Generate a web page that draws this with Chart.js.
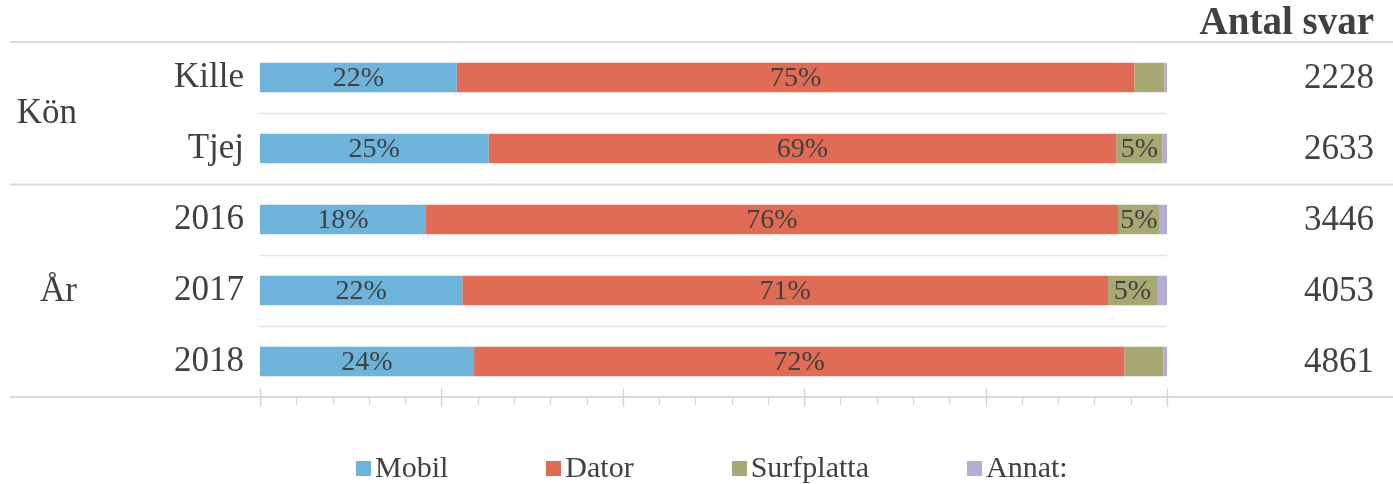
<!DOCTYPE html>
<html><head><meta charset="utf-8">
<script src="https://cdn.jsdelivr.net/npm/chart.js@4"></script>
<style>
html,body{margin:0;padding:0;background:#fff;}
#wrap{position:relative;width:1393px;height:484px;}
#legend{position:absolute;top:450px;left:356px;display:flex;font-family:"Liberation Serif",serif;font-size:30px;color:#404040;}
#legend .it{display:flex;align-items:center;margin-right:98px;}
#legend .bx{width:15px;height:15px;margin-right:4px;margin-top:2px;}
</style></head>
<body><div id="wrap"><canvas id="c" width="1393" height="484"></canvas><div id="legend"></div></div>
<script>
const categories = ["Kille", "Tjej", "2016", "2017", "2018"];
const groups = [["Kön", 0, 1], ["År", 2, 4]];
const mobil = [21.7, 25.2, 18.3, 22.3, 23.6];
const dator = [74.7, 69.2, 76.3, 71.2, 71.7];
const surfplatta = [3.3, 5.1, 4.6, 5.4, 4.3];
const annat = [0.3, 0.5, 0.8, 1.1, 0.4];
const antalSvar = [2228, 2633, 3446, 4053, 4861];
const seriesNames = ["Mobil", "Dator", "Surfplatta", "Annat:"];
const colors = ["#6DB3DA", "#E06C55", "#A8A874", "#B3ADD6"];
const xTicksMajor = [0, 20, 40, 60, 80, 100];
const minorStep = 4;

const TXT = "#404040";
const FONT = '"Liberation Serif", serif';

const deco = {
  id: "deco",
  beforeDatasetsDraw(chart) {
    const ctx = chart.ctx, y = chart.scales.y, x = chart.scales.x, ca = chart.chartArea;
    ctx.save();
    const n = categories.length;
    const step = (ca.bottom - ca.top) / n;
    for (let i = 1; i < n; i++) {
      const yy = Math.round(ca.top + i * step) + 0.5;
      const isGroupSep = groups.some(g => g[1] === i);
      ctx.beginPath();
      if (isGroupSep) {
        ctx.strokeStyle = "#D9D9D9"; ctx.lineWidth = 2;
        ctx.moveTo(10, yy); ctx.lineTo(1393, yy);
      } else {
        ctx.strokeStyle = "#E3E3E3"; ctx.lineWidth = 1.5;
        ctx.moveTo(ca.left, yy); ctx.lineTo(ca.right, yy);
      }
      ctx.stroke();
    }
    ctx.strokeStyle = "#D9D9D9"; ctx.lineWidth = 2;
    ctx.beginPath(); ctx.moveTo(10, ca.top); ctx.lineTo(1393, ca.top); ctx.stroke();
    ctx.beginPath(); ctx.moveTo(10, ca.bottom); ctx.lineTo(1393, ca.bottom); ctx.stroke();
    ctx.lineWidth = 1.2; ctx.strokeStyle = "#D4D4D4";
    for (let v = 0; v <= 100; v += minorStep) {
      const px = Math.round(x.getPixelForValue(v)) + 0.5;
      ctx.beginPath(); ctx.moveTo(px, ca.bottom); ctx.lineTo(px, ca.bottom + 8); ctx.stroke();
    }
    xTicksMajor.forEach(v => {
      const px = Math.round(x.getPixelForValue(v)) + 0.5;
      ctx.beginPath(); ctx.moveTo(px, ca.bottom - 9); ctx.lineTo(px, ca.bottom + 10); ctx.stroke();
    });
    ctx.restore();
  },
  afterDatasetsDraw(chart) {
    const ctx = chart.ctx, y = chart.scales.y;
    ctx.save();
    ctx.fillStyle = TXT;
    ctx.font = "28px " + FONT;
    ctx.textAlign = "center"; ctx.textBaseline = "middle";
    chart.data.datasets.forEach((ds, di) => {
      const meta = chart.getDatasetMeta(di);
      meta.data.forEach((bar, i) => {
        const v = ds.data[i];
        if (v >= 4.5) {
          const cx = (bar.x + bar.base) / 2;
          ctx.fillText(Math.round(v) + "%", cx, bar.y + 1);
        }
      });
    });
    ctx.textAlign = "right";
    ctx.font = "bold 39px " + FONT;
    ctx.fillText("Antal svar", 1374, 24);
    ctx.font = "35px " + FONT;
    antalSvar.forEach((n, i) => {
      ctx.fillText(String(n), 1374, y.getPixelForValue(i) + 1);
    });
    groups.forEach(g => {
      const yy = (y.getPixelForValue(g[1]) + y.getPixelForValue(g[2])) / 2;
      ctx.fillText(g[0], 77, yy + 1);
    });
    ctx.restore();
  }
};

const chart = new Chart(document.getElementById("c"), {
  type: "bar",
  data: {
    labels: categories,
    datasets: [mobil, dator, surfplatta, annat].map((d, i) => ({
      label: seriesNames[i], data: d, backgroundColor: colors[i],
      borderWidth: 0, barPercentage: 0.414, categoryPercentage: 1
    }))
  },
  options: {
    indexAxis: "y",
    responsive: false,
    animation: false,
    layout: { padding: { top: 42, bottom: 87, left: 0, right: 226 } },
    plugins: { legend: { display: false }, tooltip: { enabled: false } },
    scales: {
      x: { stacked: true, min: 0, max: 100, display: false },
      y: {
        stacked: true,
        grid: { display: false, drawTicks: false },
        border: { display: false },
        ticks: { color: TXT, font: { family: FONT, size: 35 }, padding: 16 },
        afterFit(s) { s.width = 260; }
      }
    }
  },
  plugins: [deco]
});

const lg = document.getElementById("legend");
chart.data.datasets.forEach(ds => {
  const it = document.createElement("div"); it.className = "it";
  const bx = document.createElement("div"); bx.className = "bx"; bx.style.background = ds.backgroundColor;
  const tx = document.createElement("span"); tx.textContent = ds.label;
  it.appendChild(bx); it.appendChild(tx); lg.appendChild(it);
});
</script></body></html>
